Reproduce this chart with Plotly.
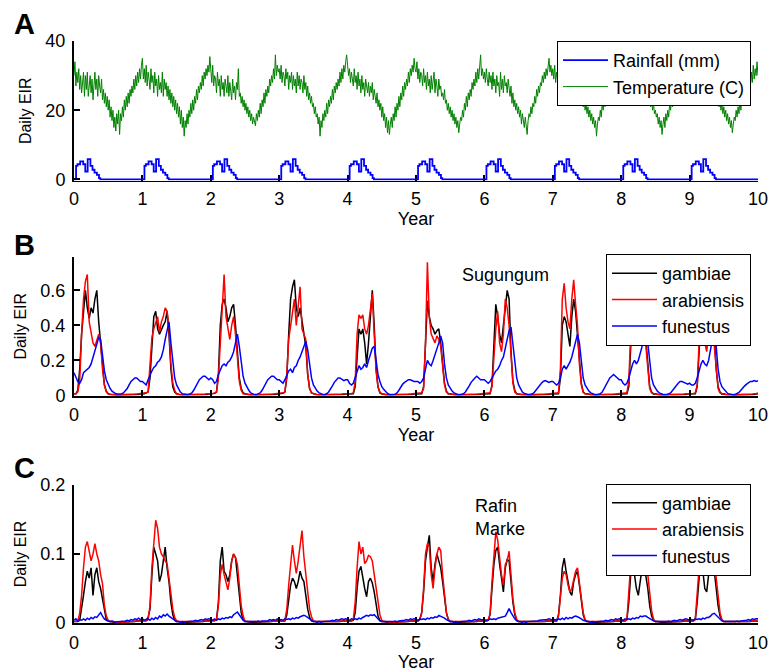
import numpy as np
import plotly.graph_objects as go

STEPS_PER_YEAR = 36
TEMP_STEPS_PER_YEAR = 72
YEARS = 10
t = np.arange(YEARS * STEPS_PER_YEAR + 1) / STEPS_PER_YEAR
t_temp = np.arange(YEARS * TEMP_STEPS_PER_YEAR + 1) / TEMP_STEPS_PER_YEAR
year_ticks = list(range(0, 11))

# ---------------- Panel A: temperature (C), 72 samples per year ----------------
TEMP_ROWS = [
    [30, 34, 27, 31, 28, 32, 26, 30, 25, 29, 31, 24,
     30, 26, 31, 24, 28, 30, 25, 29, 23, 28, 31, 26,
     29, 24, 30, 27, 25, 29, 23, 26, 22, 25, 21, 24,
     20, 23, 18, 21, 17, 20, 15, 18, 14, 19, 16, 20,
     13, 19, 17, 21, 18, 23, 20, 24, 21, 25, 22, 26,
     24, 27, 25, 29, 26, 30, 27, 31, 28, 32, 29, 33],
    [35, 29, 32, 28, 33, 27, 31, 29, 26, 32, 28, 30,
     25, 31, 27, 29, 24, 30, 26, 28, 25, 31, 24, 29,
     26, 28, 24, 27, 23, 26, 22, 25, 21, 24, 20, 23,
     19, 22, 18, 21, 16, 20, 15, 18, 12.5, 17, 15, 19,
     16, 20, 18, 22, 19, 23, 20, 24, 22, 26, 23, 27,
     25, 28, 26, 30, 27, 31, 29, 32, 30, 33, 31, 35.5],
    [31, 28, 33, 27, 30, 29, 25, 31, 27, 29, 24, 30,
     26, 28, 24, 29, 27, 25, 30, 24, 28, 26, 23, 29,
     25, 27, 23, 28, 26, 32, 24, 25, 22, 24, 21, 23,
     20, 22, 19, 21, 18, 20, 17, 19, 16, 18, 17, 15.5,
     19, 17, 20, 18, 22, 19, 23, 21, 25, 22, 26, 24,
     27, 25, 29, 27, 30, 28, 32, 29, 36, 30, 33, 31],
    [32, 29, 33, 28, 31, 30, 27, 32, 29, 31, 26, 30,
     28, 31, 26, 30, 27, 29, 25, 31, 27, 30, 26, 29,
     28, 25, 30, 26, 28, 24, 27, 23, 25, 22, 24, 21,
     22, 19, 21, 18, 19, 16, 18, 12.5, 17, 15, 19, 17,
     20, 18, 22, 19, 23, 21, 24, 22, 26, 23, 27, 25,
     28, 26, 29, 27, 31, 28, 32, 29, 33, 31, 34, 36],
    [33, 30, 32, 28, 31, 29, 27, 32, 28, 30, 26, 31,
     27, 29, 25, 30, 26, 28, 24, 29, 27, 25, 28, 24,
     27, 25, 28, 23, 26, 24, 22, 25, 21, 23, 20, 22,
     18, 21, 17, 19, 15, 18, 13.5, 17, 13, 16, 18, 15,
     19, 17, 21, 18, 22, 20, 24, 21, 25, 23, 27, 24,
     28, 26, 29, 27, 31, 28, 32, 30, 33, 31, 35, 32],
    [31, 34, 29, 32, 28, 31, 30, 27, 32, 28, 30, 26,
     31, 27, 29, 25, 30, 26, 28, 31, 25, 29, 27, 24,
     29, 26, 27, 24, 25, 23, 26, 22, 23, 20, 22, 19,
     21, 18, 20, 17, 19, 16, 18, 15, 17, 13.5, 16, 18,
     17, 20, 18, 22, 20, 24, 21, 25, 23, 26, 24, 28,
     26, 29, 27, 31, 28, 32, 29, 33, 36, 30, 32, 29],
    [31, 28, 32, 29, 27, 31, 28, 30, 26, 31, 27, 29,
     25, 30, 27, 28, 24, 31, 26, 29, 25, 30, 27, 28,
     25, 29, 26, 24, 27, 22, 25, 21, 23, 20, 22, 19,
     21, 18, 20, 16, 19, 17, 15, 18, 16, 13, 17, 19,
     18, 21, 19, 22, 21, 24, 22, 26, 24, 27, 25, 28,
     27, 30, 28, 31, 29, 32, 30, 33, 35, 31, 33, 30],
    [32, 29, 33, 28, 31, 29, 27, 32, 28, 30, 26, 31,
     27, 29, 25, 30, 26, 28, 24, 29, 27, 25, 28, 24,
     27, 25, 28, 23, 26, 24, 22, 25, 21, 23, 20, 22,
     19, 21, 18, 20, 17, 19, 16, 18, 15, 17, 12.5, 16,
     18, 17, 20, 18, 22, 20, 23, 21, 25, 22, 26, 24,
     27, 25, 29, 26, 30, 28, 31, 29, 33, 30, 32, 31],
    [33, 29, 31, 28, 32, 27, 30, 28, 26, 31, 27, 29,
     25, 30, 26, 28, 24, 29, 27, 25, 28, 23, 27, 25,
     28, 24, 26, 23, 25, 22, 24, 21, 23, 20, 22, 19,
     20, 18, 19, 16, 18, 15, 17, 13, 16, 18, 15, 19,
     17, 20, 18, 22, 20, 23, 21, 25, 22, 26, 24, 27,
     25, 28, 27, 30, 28, 31, 29, 32, 30, 33, 31, 32],
    [32, 29, 33, 28, 31, 29, 27, 31, 28, 30, 26, 31,
     27, 29, 25, 30, 26, 28, 24, 29, 26, 28, 24, 27,
     25, 28, 23, 26, 24, 22, 25, 21, 23, 20, 22, 19,
     21, 18, 20, 17, 19, 16, 18, 15, 17, 13.5, 16, 18,
     17, 20, 18, 21, 19, 23, 20, 24, 22, 25, 23, 27,
     25, 28, 26, 30, 27, 31, 28, 33, 29, 32, 30, 34],
]
TEMP_END = 30

# Rainfall (mm): annual step profile (fraction of year, value)
RAIN_YEAR_OFFSET = [0.0, 0.03, 0.05, 0.09, 0.135, 0.165, 0.2, 0.24, 0.27, 0.3, 0.335, 0.365, 0.385]
RAIN_VALUE = [0.0, 3.9, 4.4, 5.2, 4.4, 2.3, 5.9, 3.9, 2.8, 2.0, 1.3, 0.4, 0.0]

# ---------------- Panel B: Sugungum (36 samples per year) ----------------
GAMB_B_SEASON = [
    [0.010, 0.010, 0.030, 0.150, 0.350, 0.500, 0.600, 0.500, 0.440, 0.500, 0.470, 0.550, 0.600, 0.420, 0.300, 0.150, 0.060, 0.025],
    [0.008, 0.010, 0.015, 0.020, 0.100, 0.300, 0.450, 0.480, 0.380, 0.350, 0.380, 0.400, 0.420, 0.480, 0.350, 0.150, 0.050, 0.020],
    [0.008, 0.010, 0.012, 0.020, 0.120, 0.400, 0.520, 0.550, 0.500, 0.420, 0.450, 0.500, 0.520, 0.400, 0.250, 0.100, 0.040, 0.015],
    [0.008, 0.010, 0.012, 0.020, 0.100, 0.350, 0.550, 0.620, 0.660, 0.500, 0.450, 0.500, 0.420, 0.350, 0.280, 0.120, 0.040, 0.015],
    [0.008, 0.008, 0.010, 0.010, 0.050, 0.250, 0.380, 0.350, 0.380, 0.300, 0.180, 0.300, 0.450, 0.600, 0.400, 0.150, 0.050, 0.015],
    [0.008, 0.008, 0.010, 0.010, 0.050, 0.300, 0.540, 0.450, 0.400, 0.380, 0.350, 0.370, 0.380, 0.300, 0.180, 0.070, 0.025, 0.010],
    [0.008, 0.008, 0.010, 0.010, 0.060, 0.300, 0.520, 0.450, 0.350, 0.300, 0.400, 0.500, 0.600, 0.550, 0.250, 0.080, 0.030, 0.010],
    [0.008, 0.008, 0.010, 0.010, 0.100, 0.400, 0.450, 0.420, 0.350, 0.280, 0.450, 0.550, 0.480, 0.350, 0.200, 0.070, 0.020, 0.010],
    [0.008, 0.008, 0.010, 0.010, 0.050, 0.300, 0.500, 0.450, 0.400, 0.350, 0.400, 0.500, 0.450, 0.300, 0.150, 0.050, 0.020, 0.008],
    [0.008, 0.008, 0.010, 0.010, 0.050, 0.250, 0.450, 0.550, 0.450, 0.300, 0.350, 0.450, 0.500, 0.350, 0.150, 0.050, 0.020, 0.008],
]
GAMB_B_OFF = [0.010, 0.006, 0.004, 0.003, 0.003, 0.002, 0.002, 0.002, 0.002, 0.003, 0.003, 0.003, 0.004, 0.004, 0.005, 0.005, 0.006, 0.008]
GAMB_B_END = 0.010

ARAB_B_SEASON = [
    [0.010, 0.010, 0.020, 0.080, 0.350, 0.550, 0.650, 0.690, 0.420, 0.350, 0.300, 0.280, 0.320, 0.350, 0.300, 0.150, 0.060, 0.020],
    [0.010, 0.012, 0.015, 0.020, 0.150, 0.330, 0.380, 0.420, 0.450, 0.360, 0.420, 0.450, 0.500, 0.480, 0.380, 0.180, 0.070, 0.030],
    [0.010, 0.012, 0.015, 0.020, 0.100, 0.300, 0.550, 0.690, 0.450, 0.380, 0.320, 0.400, 0.450, 0.350, 0.220, 0.080, 0.030, 0.010],
    [0.010, 0.012, 0.015, 0.020, 0.120, 0.320, 0.400, 0.450, 0.550, 0.400, 0.500, 0.620, 0.380, 0.350, 0.320, 0.120, 0.040, 0.015],
    [0.010, 0.010, 0.012, 0.015, 0.080, 0.350, 0.460, 0.440, 0.460, 0.380, 0.350, 0.400, 0.500, 0.580, 0.350, 0.140, 0.050, 0.020],
    [0.010, 0.010, 0.012, 0.015, 0.040, 0.300, 0.760, 0.450, 0.350, 0.320, 0.300, 0.340, 0.320, 0.280, 0.150, 0.060, 0.020, 0.010],
    [0.010, 0.010, 0.012, 0.015, 0.050, 0.250, 0.380, 0.480, 0.300, 0.250, 0.350, 0.550, 0.500, 0.400, 0.200, 0.070, 0.020, 0.010],
    [0.010, 0.010, 0.012, 0.015, 0.150, 0.550, 0.640, 0.500, 0.420, 0.380, 0.550, 0.660, 0.520, 0.400, 0.180, 0.060, 0.020, 0.010],
    [0.010, 0.010, 0.012, 0.015, 0.080, 0.350, 0.450, 0.500, 0.350, 0.300, 0.420, 0.480, 0.400, 0.280, 0.120, 0.040, 0.015, 0.010],
    [0.010, 0.010, 0.012, 0.015, 0.060, 0.300, 0.420, 0.500, 0.300, 0.250, 0.350, 0.450, 0.400, 0.280, 0.120, 0.040, 0.015, 0.010],
]
ARAB_B_OFF = [0.008, 0.006, 0.005, 0.004, 0.004, 0.004, 0.004, 0.005, 0.005, 0.005, 0.006, 0.006, 0.007, 0.008, 0.008, 0.009, 0.010, 0.010]
ARAB_B_END = 0.015

FUN_B_ROWS = [
    [0.13, 0.10, 0.08, 0.07, 0.09, 0.13, 0.14, 0.15, 0.16, 0.18, 0.22, 0.26, 0.30, 0.33, 0.32, 0.22, 0.14, 0.09, 0.06, 0.04, 0.025, 0.015, 0.01, 0.008, 0.008, 0.01, 0.015, 0.025, 0.04, 0.06, 0.08, 0.09, 0.10, 0.10, 0.09, 0.08],
    [0.08, 0.07, 0.06, 0.09, 0.12, 0.14, 0.16, 0.17, 0.19, 0.20, 0.22, 0.26, 0.32, 0.38, 0.42, 0.30, 0.18, 0.10, 0.06, 0.035, 0.02, 0.01, 0.008, 0.006, 0.006, 0.008, 0.015, 0.03, 0.05, 0.07, 0.09, 0.10, 0.11, 0.11, 0.10, 0.09],
    [0.10, 0.09, 0.07, 0.08, 0.12, 0.15, 0.17, 0.18, 0.17, 0.19, 0.20, 0.22, 0.25, 0.30, 0.35, 0.28, 0.18, 0.11, 0.07, 0.045, 0.03, 0.015, 0.008, 0.005, 0.005, 0.008, 0.015, 0.03, 0.05, 0.07, 0.09, 0.10, 0.11, 0.11, 0.10, 0.09],
    [0.09, 0.08, 0.07, 0.09, 0.12, 0.14, 0.15, 0.13, 0.16, 0.17, 0.20, 0.22, 0.25, 0.28, 0.31, 0.26, 0.17, 0.10, 0.06, 0.04, 0.025, 0.015, 0.008, 0.006, 0.006, 0.01, 0.02, 0.035, 0.055, 0.075, 0.09, 0.10, 0.10, 0.09, 0.085, 0.09],
    [0.09, 0.07, 0.06, 0.07, 0.10, 0.14, 0.17, 0.15, 0.16, 0.18, 0.16, 0.20, 0.24, 0.27, 0.28, 0.20, 0.12, 0.08, 0.05, 0.035, 0.02, 0.012, 0.006, 0.005, 0.005, 0.008, 0.015, 0.03, 0.05, 0.065, 0.075, 0.085, 0.09, 0.09, 0.085, 0.08],
    [0.08, 0.08, 0.07, 0.08, 0.10, 0.15, 0.20, 0.18, 0.17, 0.20, 0.23, 0.26, 0.30, 0.34, 0.30, 0.18, 0.10, 0.06, 0.04, 0.025, 0.015, 0.01, 0.006, 0.005, 0.006, 0.01, 0.02, 0.035, 0.055, 0.075, 0.09, 0.10, 0.11, 0.10, 0.09, 0.09],
    [0.09, 0.08, 0.07, 0.08, 0.10, 0.12, 0.14, 0.15, 0.17, 0.20, 0.22, 0.27, 0.32, 0.37, 0.39, 0.30, 0.18, 0.10, 0.06, 0.035, 0.02, 0.012, 0.008, 0.006, 0.006, 0.008, 0.015, 0.03, 0.045, 0.06, 0.07, 0.08, 0.085, 0.08, 0.075, 0.08],
    [0.08, 0.07, 0.06, 0.07, 0.10, 0.15, 0.17, 0.15, 0.17, 0.19, 0.22, 0.27, 0.31, 0.35, 0.30, 0.18, 0.10, 0.06, 0.04, 0.025, 0.015, 0.01, 0.006, 0.005, 0.006, 0.01, 0.02, 0.04, 0.06, 0.085, 0.10, 0.11, 0.12, 0.11, 0.10, 0.09],
    [0.09, 0.07, 0.06, 0.07, 0.10, 0.14, 0.18, 0.20, 0.18, 0.20, 0.24, 0.28, 0.32, 0.36, 0.30, 0.18, 0.10, 0.06, 0.04, 0.025, 0.015, 0.01, 0.006, 0.005, 0.005, 0.008, 0.015, 0.03, 0.045, 0.06, 0.07, 0.08, 0.08, 0.075, 0.07, 0.065],
    [0.07, 0.06, 0.06, 0.07, 0.10, 0.14, 0.18, 0.20, 0.18, 0.17, 0.20, 0.26, 0.32, 0.35, 0.28, 0.15, 0.08, 0.05, 0.035, 0.02, 0.012, 0.008, 0.005, 0.005, 0.006, 0.01, 0.018, 0.03, 0.045, 0.055, 0.065, 0.075, 0.08, 0.08, 0.085, 0.08],
]
FUN_B_END = 0.085

# ---------------- Panel C: Rafin Marke (36 samples per year) ----------------
GAMB_C_SEASON = [
    [0.002, 0.002, 0.002, 0.004, 0.020, 0.040, 0.060, 0.075, 0.065, 0.080, 0.040, 0.070, 0.080, 0.060, 0.050, 0.035, 0.015, 0.005, 0.003],
    [0.003, 0.003, 0.004, 0.008, 0.020, 0.070, 0.110, 0.100, 0.090, 0.060, 0.070, 0.090, 0.110, 0.080, 0.060, 0.030, 0.012, 0.004, 0.002],
    [0.003, 0.003, 0.004, 0.005, 0.030, 0.090, 0.110, 0.075, 0.070, 0.060, 0.070, 0.090, 0.100, 0.095, 0.070, 0.040, 0.015, 0.005, 0.002],
    [0.002, 0.002, 0.003, 0.003, 0.012, 0.035, 0.055, 0.065, 0.060, 0.050, 0.060, 0.075, 0.065, 0.060, 0.040, 0.020, 0.008, 0.003, 0.002],
    [0.002, 0.002, 0.003, 0.004, 0.015, 0.050, 0.075, 0.082, 0.065, 0.050, 0.038, 0.060, 0.065, 0.058, 0.045, 0.025, 0.010, 0.004, 0.002],
    [0.002, 0.003, 0.005, 0.015, 0.045, 0.090, 0.110, 0.127, 0.080, 0.060, 0.085, 0.100, 0.090, 0.080, 0.060, 0.035, 0.015, 0.005, 0.002],
    [0.002, 0.003, 0.004, 0.012, 0.050, 0.085, 0.105, 0.110, 0.085, 0.065, 0.045, 0.080, 0.092, 0.090, 0.060, 0.030, 0.012, 0.004, 0.002],
    [0.002, 0.002, 0.003, 0.012, 0.040, 0.080, 0.094, 0.075, 0.060, 0.045, 0.040, 0.060, 0.070, 0.075, 0.055, 0.030, 0.012, 0.004, 0.002],
    [0.002, 0.002, 0.003, 0.005, 0.030, 0.070, 0.085, 0.070, 0.050, 0.040, 0.060, 0.080, 0.085, 0.070, 0.050, 0.025, 0.010, 0.004, 0.002],
    [0.002, 0.002, 0.003, 0.005, 0.030, 0.065, 0.090, 0.075, 0.050, 0.045, 0.070, 0.085, 0.090, 0.075, 0.050, 0.025, 0.010, 0.004, 0.002],
]
GAMB_C_OFF = [0.002, 0.001, 0.001, 0.001, 0.001, 0.001, 0.001, 0.001, 0.001, 0.001, 0.002, 0.002, 0.002, 0.002, 0.003, 0.003, 0.003]
GAMB_C_END = 0.003

ARAB_C_SEASON = [
    [0.002, 0.002, 0.003, 0.014, 0.040, 0.080, 0.110, 0.118, 0.105, 0.090, 0.100, 0.115, 0.100, 0.090, 0.070, 0.057, 0.025, 0.010, 0.004],
    [0.002, 0.002, 0.003, 0.005, 0.025, 0.080, 0.120, 0.149, 0.137, 0.110, 0.100, 0.096, 0.090, 0.086, 0.065, 0.040, 0.020, 0.008, 0.003],
    [0.002, 0.002, 0.003, 0.005, 0.025, 0.070, 0.085, 0.070, 0.060, 0.048, 0.065, 0.090, 0.100, 0.095, 0.085, 0.055, 0.025, 0.010, 0.003],
    [0.002, 0.002, 0.003, 0.004, 0.020, 0.055, 0.090, 0.113, 0.090, 0.072, 0.090, 0.115, 0.134, 0.096, 0.070, 0.043, 0.020, 0.009, 0.003],
    [0.002, 0.002, 0.003, 0.005, 0.030, 0.080, 0.118, 0.100, 0.110, 0.086, 0.090, 0.098, 0.096, 0.090, 0.070, 0.048, 0.025, 0.012, 0.004],
    [0.002, 0.003, 0.005, 0.015, 0.050, 0.100, 0.115, 0.110, 0.070, 0.050, 0.080, 0.100, 0.110, 0.105, 0.070, 0.040, 0.015, 0.005, 0.002],
    [0.002, 0.003, 0.004, 0.014, 0.060, 0.100, 0.132, 0.120, 0.090, 0.070, 0.055, 0.085, 0.090, 0.104, 0.070, 0.035, 0.015, 0.005, 0.002],
    [0.002, 0.002, 0.003, 0.010, 0.035, 0.065, 0.075, 0.070, 0.055, 0.045, 0.050, 0.065, 0.075, 0.080, 0.060, 0.035, 0.015, 0.005, 0.002],
    [0.002, 0.002, 0.003, 0.005, 0.040, 0.085, 0.100, 0.110, 0.095, 0.085, 0.090, 0.110, 0.105, 0.095, 0.070, 0.040, 0.018, 0.006, 0.002],
    [0.002, 0.002, 0.003, 0.006, 0.040, 0.080, 0.100, 0.095, 0.075, 0.070, 0.095, 0.105, 0.100, 0.090, 0.065, 0.035, 0.015, 0.005, 0.002],
]
ARAB_C_OFF = [0.002, 0.002, 0.001, 0.001, 0.001, 0.001, 0.001, 0.001, 0.002, 0.002, 0.002, 0.002, 0.002, 0.003, 0.003, 0.003, 0.003]
ARAB_C_END = 0.004

FUN_C_ROWS = [
    [0.004, 0.006, 0.003, 0.005, 0.004, 0.006, 0.004, 0.007, 0.005, 0.008, 0.006, 0.009, 0.008, 0.012, 0.015, 0.010, 0.006, 0.004, 0.003, 0.002, 0.003, 0.002, 0.001, 0.002, 0.002, 0.003, 0.002, 0.003, 0.004, 0.003, 0.005, 0.004, 0.006, 0.005, 0.007, 0.005],
    [0.006, 0.004, 0.005, 0.006, 0.004, 0.007, 0.005, 0.008, 0.006, 0.010, 0.008, 0.012, 0.010, 0.013, 0.010, 0.008, 0.005, 0.003, 0.002, 0.002, 0.001, 0.002, 0.001, 0.002, 0.002, 0.003, 0.002, 0.003, 0.004, 0.003, 0.004, 0.005, 0.004, 0.006, 0.005, 0.006],
    [0.005, 0.004, 0.006, 0.004, 0.006, 0.005, 0.007, 0.006, 0.008, 0.007, 0.009, 0.008, 0.012, 0.014, 0.016, 0.012, 0.007, 0.004, 0.002, 0.002, 0.001, 0.002, 0.001, 0.002, 0.002, 0.003, 0.002, 0.003, 0.003, 0.004, 0.003, 0.005, 0.004, 0.005, 0.004, 0.006],
    [0.004, 0.005, 0.004, 0.006, 0.005, 0.006, 0.005, 0.007, 0.006, 0.008, 0.007, 0.009, 0.010, 0.011, 0.010, 0.008, 0.005, 0.003, 0.002, 0.002, 0.001, 0.002, 0.001, 0.002, 0.002, 0.003, 0.002, 0.003, 0.004, 0.003, 0.005, 0.004, 0.005, 0.006, 0.005, 0.006],
    [0.005, 0.004, 0.006, 0.005, 0.006, 0.005, 0.007, 0.006, 0.008, 0.009, 0.011, 0.010, 0.012, 0.011, 0.012, 0.009, 0.006, 0.003, 0.002, 0.002, 0.001, 0.002, 0.001, 0.002, 0.002, 0.003, 0.002, 0.003, 0.003, 0.004, 0.004, 0.005, 0.004, 0.006, 0.005, 0.006],
    [0.005, 0.004, 0.006, 0.005, 0.006, 0.005, 0.007, 0.006, 0.008, 0.007, 0.009, 0.008, 0.011, 0.010, 0.009, 0.007, 0.005, 0.003, 0.002, 0.002, 0.001, 0.002, 0.001, 0.002, 0.002, 0.003, 0.002, 0.003, 0.004, 0.003, 0.004, 0.005, 0.004, 0.006, 0.005, 0.005],
    [0.004, 0.005, 0.004, 0.006, 0.005, 0.006, 0.005, 0.007, 0.008, 0.009, 0.010, 0.010, 0.015, 0.021, 0.015, 0.010, 0.006, 0.003, 0.002, 0.002, 0.001, 0.002, 0.001, 0.002, 0.002, 0.003, 0.002, 0.003, 0.003, 0.004, 0.004, 0.005, 0.004, 0.005, 0.006, 0.005],
    [0.004, 0.005, 0.004, 0.006, 0.005, 0.007, 0.005, 0.008, 0.006, 0.008, 0.007, 0.009, 0.010, 0.009, 0.008, 0.006, 0.004, 0.003, 0.002, 0.002, 0.001, 0.002, 0.001, 0.002, 0.002, 0.003, 0.002, 0.003, 0.004, 0.003, 0.004, 0.005, 0.004, 0.006, 0.005, 0.006],
    [0.005, 0.004, 0.006, 0.005, 0.006, 0.005, 0.007, 0.006, 0.008, 0.007, 0.010, 0.009, 0.010, 0.010, 0.008, 0.006, 0.004, 0.003, 0.002, 0.002, 0.001, 0.002, 0.001, 0.002, 0.002, 0.003, 0.002, 0.003, 0.004, 0.003, 0.004, 0.005, 0.004, 0.005, 0.006, 0.005],
    [0.004, 0.005, 0.004, 0.006, 0.005, 0.006, 0.005, 0.007, 0.006, 0.008, 0.008, 0.010, 0.013, 0.014, 0.011, 0.008, 0.005, 0.003, 0.002, 0.002, 0.001, 0.002, 0.001, 0.002, 0.002, 0.003, 0.002, 0.003, 0.003, 0.004, 0.004, 0.005, 0.004, 0.006, 0.005, 0.006],
]
FUN_C_END = 0.006


def build(rows, end, grid, off=None):
    vals = []
    for r in rows:
        vals.extend(list(r) + (list(off) if off is not None else []))
    vals.append(end)
    assert len(vals) == len(grid), len(vals)
    return vals


temp = build(TEMP_ROWS, TEMP_END, t_temp)
gamb_b = build(GAMB_B_SEASON, GAMB_B_END, t, GAMB_B_OFF)
arab_b = build(ARAB_B_SEASON, ARAB_B_END, t, ARAB_B_OFF)
fun_b = build(FUN_B_ROWS, FUN_B_END, t)
gamb_c = build(GAMB_C_SEASON, GAMB_C_END, t, GAMB_C_OFF)
arab_c = build(ARAB_C_SEASON, ARAB_C_END, t, ARAB_C_OFF)
fun_c = build(FUN_C_ROWS, FUN_C_END, t)

rain_x, rain_y = [], []
for yr in range(YEARS):
    for off, v in zip(RAIN_YEAR_OFFSET, RAIN_VALUE):
        rain_x.append(yr + off)
        rain_y.append(v)
rain_x.append(YEARS)
rain_y.append(0.0)

FONT = "Liberation Sans, Arial, Helvetica, sans-serif"
W, H = 771, 672
L, R = 74, 13

fig = go.Figure()
fig.add_trace(go.Scatter(x=rain_x, y=rain_y, mode="lines", line=dict(color="#0000ff", width=1.8, shape="hv"),
                         name="Rainfall (mm)", xaxis="x", yaxis="y", legend="legend"))
fig.add_trace(go.Scatter(x=t_temp, y=temp, mode="lines", line=dict(color="#008000", width=1),
                         name="Temperature (C)", xaxis="x", yaxis="y", legend="legend"))

for ys, nm, col in [(gamb_b, "gambiae", "#000000"), (arab_b, "arabiensis", "#ff0000"), (fun_b, "funestus", "#0000ff")]:
    fig.add_trace(go.Scatter(x=t, y=ys, mode="lines", line=dict(color=col, width=1.5),
                             name=nm, xaxis="x2", yaxis="y2", legend="legend2"))
for ys, nm, col in [(gamb_c, "gambiae", "#000000"), (arab_c, "arabiensis", "#ff0000"), (fun_c, "funestus", "#0000ff")]:
    fig.add_trace(go.Scatter(x=t, y=ys, mode="lines", line=dict(color=col, width=1.5),
                             name=nm, xaxis="x3", yaxis="y3", legend="legend3"))


def px_to_y(p):
    return 1 - p / H


def px_to_x(p):
    return (p - L) / (W - L - R)


xcommon = dict(range=[0, 10], tickvals=year_ticks, showline=True, linecolor="black", linewidth=2,
               ticks="inside", ticklen=6, tickwidth=2, tickcolor="black", showgrid=False, zeroline=False,
               tickfont=dict(size=18), title=dict(text="Year", font=dict(size=18), standoff=4),
               domain=[0, 1], automargin=False, ticklabelstandoff=2)
ycommon = dict(showline=True, linecolor="black", linewidth=2, ticks="inside", ticklen=6, tickwidth=2,
               tickcolor="black", showgrid=False, zeroline=False, tickfont=dict(size=18),
               title=dict(text="Daily EIR", font=dict(size=16), standoff=10), ticklabelstandoff=3,
               automargin=False)

legcommon = dict(xanchor="right", yanchor="middle", bgcolor="white", bordercolor="black", borderwidth=1,
                 font=dict(size=18, family=FONT), tracegroupgap=0, itemwidth=45)

fig.update_layout(
    width=W, height=H, margin=dict(l=L, r=R, t=0, b=0, autoexpand=False),
    paper_bgcolor="white", plot_bgcolor="white",
    font=dict(family=FONT, size=18, color="black"),
    xaxis=dict(xcommon, anchor="y", layer="below traces", linewidth=1),
    yaxis=dict(ycommon, anchor="x", domain=[px_to_y(180.5), px_to_y(41)], range=[-0.3, 40], tickvals=[0, 20, 40]),
    xaxis2=dict(xcommon, anchor="y2"),
    yaxis2=dict(ycommon, anchor="x2", domain=[px_to_y(395.5), px_to_y(257)], range=[0, 0.79],
                tickvals=[0, 0.2, 0.4, 0.6]),
    xaxis3=dict(xcommon, anchor="y3"),
    yaxis3=dict(ycommon, anchor="x3", domain=[px_to_y(623), px_to_y(485)], range=[0, 0.2],
                tickvals=[0, 0.1, 0.2]),
    legend=dict(legcommon, x=px_to_x(751), y=px_to_y(73.5)),
    legend2=dict(legcommon, x=px_to_x(751), y=px_to_y(300)),
    legend3=dict(legcommon, x=px_to_x(751), y=px_to_y(529.5)),
    showlegend=True,
)

for letter, yc in [("A", 23.5), ("B", 245), ("C", 468)]:
    fig.add_annotation(text="<b>%s</b>" % letter, xref="paper", yref="paper", x=px_to_x(24), y=px_to_y(yc),
                       xanchor="center", yanchor="middle", showarrow=False, font=dict(size=29, family=FONT))

fig.add_annotation(text="Sugungum", xref="paper", yref="paper", x=px_to_x(505), y=px_to_y(275),
                   xanchor="center", yanchor="middle", showarrow=False, font=dict(size=18))
fig.add_annotation(text="Rafin<br>Marke", xref="paper", yref="paper", x=px_to_x(473), y=px_to_y(517),
                   xanchor="left", yanchor="middle", align="left", showarrow=False, font=dict(size=18))

fig.write_html("out.html", config={"displayModeBar": False},
               post_script="document.body.style.margin='0px';document.body.style.overflow='hidden';")
